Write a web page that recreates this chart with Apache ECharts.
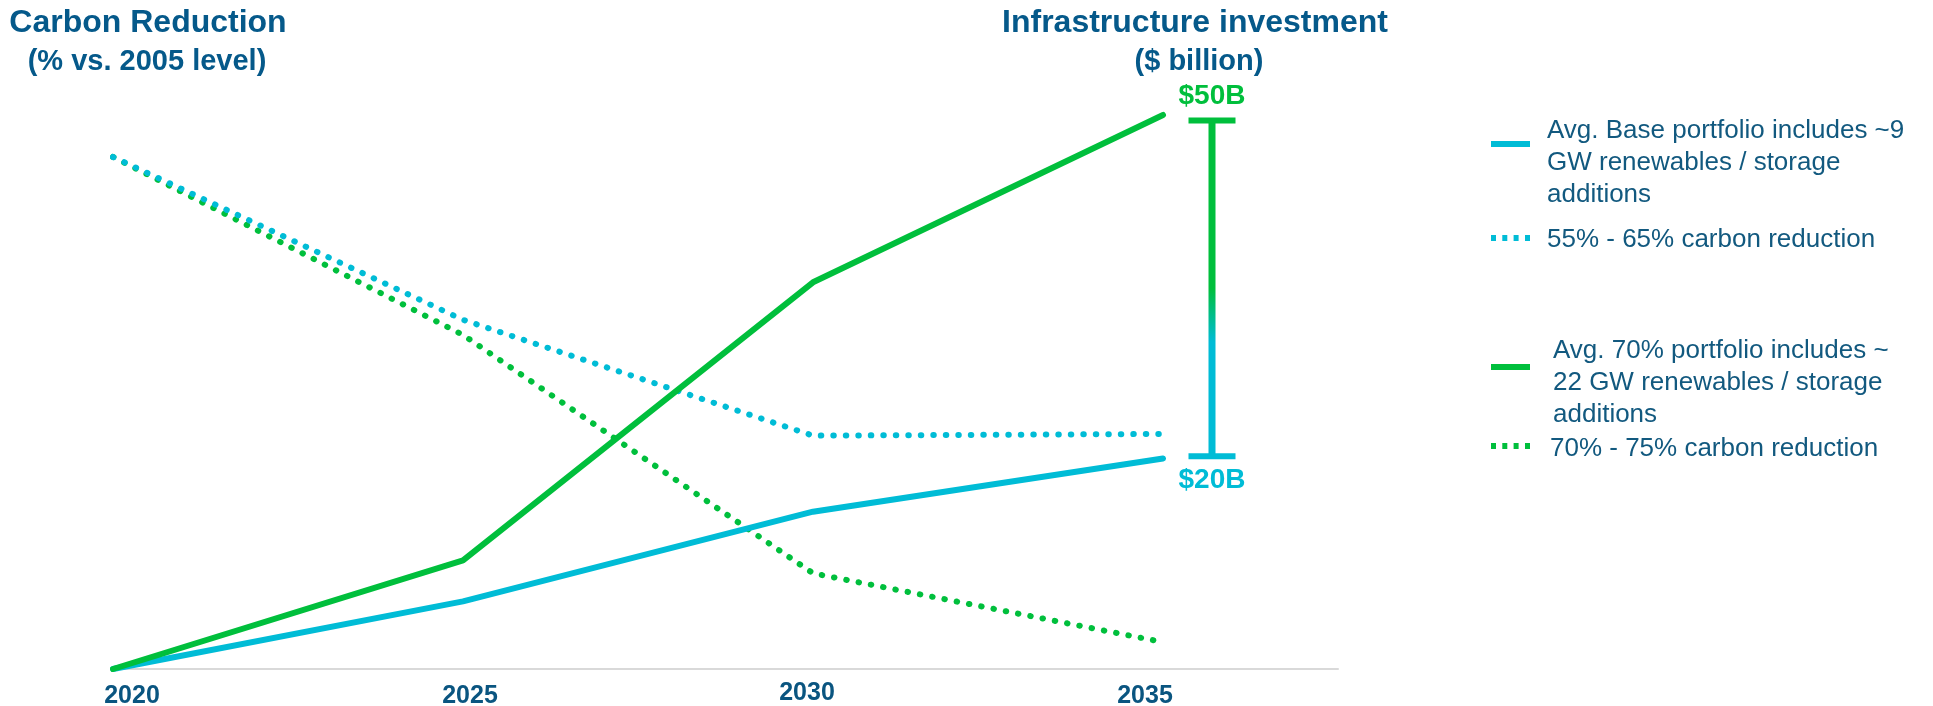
<!DOCTYPE html>
<html>
<head>
<meta charset="utf-8">
<script src="https://cdn.jsdelivr.net/npm/echarts@6/dist/echarts.min.js"></script>
<style>
  html, body { margin: 0; padding: 0; background: #fff; }
  #chart { width: 1933px; height: 706px; }
</style>
</head>
<body>
<div id="chart"></div>
<script>
    // data
    var years = [2020, 2025, 2030, 2035];
    var investBase = [0, 6.1, 14.2, 19.0];      // $B
    var invest70 = [0, 9.8, 34.9, 50.0];        // $B
    var carbonBase = [43.5, 53.2, 60.1, 60.0];  // % reduction
    var carbon70 = [43.5, 54.1, 68.3, 72.4];    // % reduction
    var bracket = [2035.7, 49.5, 19.2];         // x, top, bottom
    var bracketLabels = ['$50B', '$20B'];
    var names = [
        'Avg. Base portfolio includes ~9\nGW renewables / storage\nadditions',
        '55% - 65% carbon reduction',
        'Avg. 70% portfolio includes ~\n22 GW renewables / storage\nadditions',
        '70% - 75% carbon reduction'
    ];

    var green = '#00bf3c';
    var cyan = '#00bcd6';
    var navy = '#05598a';
    var font = '"Liberation Sans", Arial, sans-serif';

    var solidIcon = 'path://M0,0H39V6H0Z';
    var dotIcon = 'path://M0,0h5v6h-5zM11.3,0h5v6h-5zM22.6,0h5v6h-5zM34,0h5v6h-5z';
    // per-label nudges of the year labels (as in the original slide)
    var labelPad = [[3, 0, 0, 38], [3, 0, 0, 14], [0, 12, 0, 0], [3, 36, 0, 0]];

    function pairs(vals) {
        return years.map(function (y, i) { return [y, vals[i]]; });
    }

    // spacer = height of an empty first line, pushes the text below the icon
    function legendFor(name, top, icon, spacer, padLeft) {
        return {
            data: [name],
            left: 1491,
            top: top,
            padding: 0,
            icon: icon,
            itemWidth: 39,
            itemHeight: 6,
            selectedMode: false,
            itemStyle: { borderWidth: 0 },
            formatter: function (n) { return '{s| }\n' + n; },
            textStyle: {
                fontFamily: font,
                fontSize: 26,
                lineHeight: 32,
                color: '#12597f',
                padding: [0, 0, 0, padLeft],
                rich: { s: { fontSize: 2, lineHeight: spacer } }
            }
        };
    }

    var myChart = echarts.init(document.getElementById('chart'));

    var rich = {};
    labelPad.forEach(function (p, i) { rich['l' + i] = { padding: p }; });

    var option = {
        animation: false,
        grid: { left: 113, right: 595, top: 115, bottom: 37, outerBoundsMode: 'none', containLabel: false },
        graphic: [
            { type: 'text', x: 148, y: 23, style: { text: 'Carbon Reduction', font: 'bold 32px ' + font, fill: navy, align: 'center', verticalAlign: 'middle' } },
            { type: 'text', x: 147, y: 62, style: { text: '(% vs. 2005 level)', font: 'bold 29px ' + font, fill: navy, align: 'center', verticalAlign: 'middle' } },
            { type: 'text', x: 1195, y: 23, style: { text: 'Infrastructure investment', font: 'bold 32px ' + font, fill: navy, align: 'center', verticalAlign: 'middle' } },
            { type: 'text', x: 1199, y: 62, style: { text: '($ billion)', font: 'bold 29px ' + font, fill: navy, align: 'center', verticalAlign: 'middle' } }
        ],
        legend: [
            legendFor(names[0], 77, solidIcon, 38, 12),
            legendFor(names[1], 220, dotIcon, 4, 12),
            legendFor(names[2], 303, solidIcon, 32, 18),
            legendFor(names[3], 427, dotIcon, 6, 15)
        ],
        xAxis: {
            type: 'value',
            min: 2020,
            max: 2037.5,
            interval: 5,
            axisLine: { show: true, onZero: false, lineStyle: { color: '#d9d9d9', width: 2 } },
            axisTick: { show: false },
            splitLine: { show: false },
            axisLabel: {
                margin: 12,
                showMaxLabel: false,
                fontFamily: font,
                fontSize: 25,
                fontWeight: 'bold',
                color: '#0a5580',
                formatter: function (v) {
                    var i = years.indexOf(v);
                    if (i < 0) return '';
                    return '{l' + i + '|' + v + '}';
                },
                rich: rich
            }
        },
        yAxis: [
            { type: 'value', min: 0, max: 50, show: false },
            { type: 'value', min: 41, max: 74, inverse: true, show: false }
        ],
        series: [
            {
                name: names[3], type: 'line', yAxisIndex: 1, data: pairs(carbon70),
                symbol: 'none', clip: false, silent: true,
                itemStyle: { color: green },
                lineStyle: { color: green, width: 6, type: [0.5, 12], cap: 'round' }
            },
            {
                name: names[1], type: 'line', yAxisIndex: 1, data: pairs(carbonBase),
                symbol: 'none', clip: false, silent: true,
                itemStyle: { color: cyan },
                lineStyle: { color: cyan, width: 6, type: [0.5, 12], cap: 'round' }
            },
            {
                name: names[0], type: 'line', yAxisIndex: 0, data: pairs(investBase),
                symbol: 'none', clip: false, silent: true,
                itemStyle: { color: cyan },
                lineStyle: { color: cyan, width: 6, cap: 'round' }
            },
            {
                name: names[2], type: 'line', yAxisIndex: 0, data: pairs(invest70),
                symbol: 'none', clip: false, silent: true,
                itemStyle: { color: green },
                lineStyle: { color: green, width: 6, cap: 'round' }
            },
            {
                name: 'bracket', type: 'custom', yAxisIndex: 0, clip: false, silent: true,
                data: [bracket],
                encode: { x: 0, y: [1, 2] },
                renderItem: function (params, api) {
                    var top = api.coord([api.value(0), api.value(1)]);
                    var bot = api.coord([api.value(0), api.value(2)]);
                    var x = top[0], half = 23.5;
                    var grad = new echarts.graphic.LinearGradient(0, top[1], 0, bot[1], [
                        { offset: 0, color: green },
                        { offset: 0.5, color: green },
                        { offset: 0.66, color: cyan },
                        { offset: 1, color: cyan }
                    ], true);
                    return {
                        type: 'group',
                        children: [
                            { type: 'line', shape: { x1: x, y1: top[1], x2: x, y2: bot[1] }, style: { stroke: grad, lineWidth: 7 } },
                            { type: 'line', shape: { x1: x - half, y1: top[1], x2: x + half, y2: top[1] }, style: { stroke: green, lineWidth: 6 } },
                            { type: 'line', shape: { x1: x - half, y1: bot[1], x2: x + half, y2: bot[1] }, style: { stroke: cyan, lineWidth: 6 } },
                            { type: 'text', x: x, y: top[1] - 24, style: { text: bracketLabels[0], font: 'bold 28px ' + font, fill: green, align: 'center', verticalAlign: 'middle' } },
                            { type: 'text', x: x, y: bot[1] + 24, style: { text: bracketLabels[1], font: 'bold 28px ' + font, fill: cyan, align: 'center', verticalAlign: 'middle' } }
                        ]
                    };
                }
            }
        ]
    };

    myChart.setOption(option);
</script>
</body>
</html>
